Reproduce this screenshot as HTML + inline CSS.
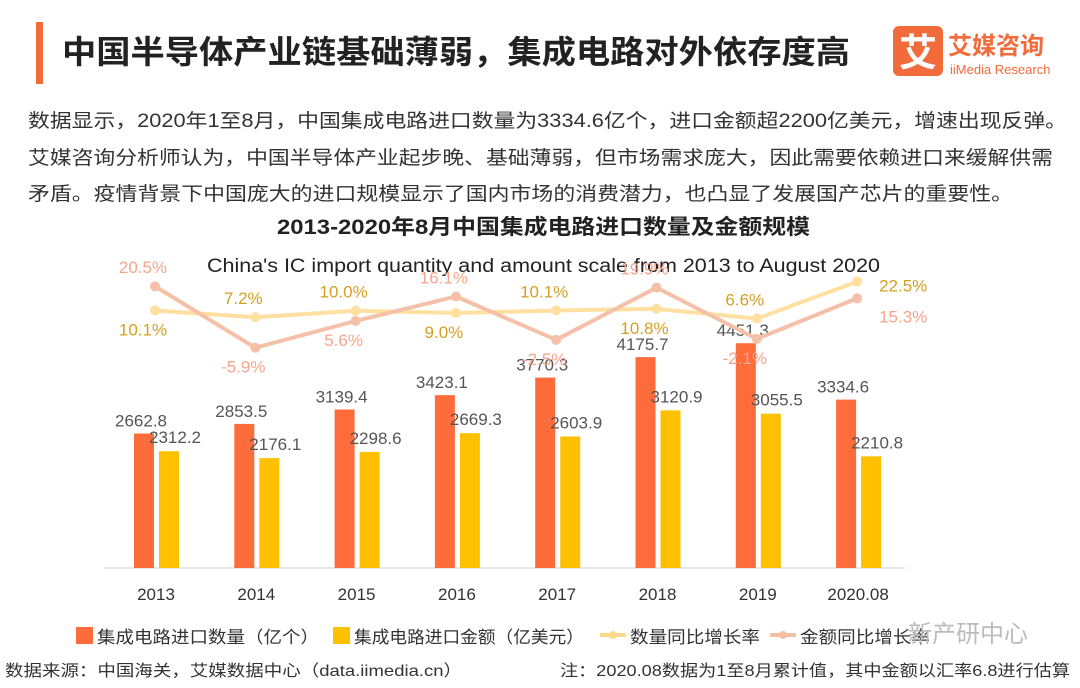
<!DOCTYPE html>
<html><head><meta charset="utf-8"><style>
body{margin:0;width:1080px;height:683px;background:#fff;overflow:hidden;font-family:"Liberation Sans","Noto Sans CJK SC",sans-serif;}
</style></head><body>
<svg width="1080" height="683" xmlns="http://www.w3.org/2000/svg" style="font-family:'Liberation Sans','Noto Sans CJK SC',sans-serif">
<rect x="36" y="22" width="7" height="62" fill="#f26b3a"/>
<text x="62" y="63" font-size="32" font-weight="bold" fill="#222" textLength="788" lengthAdjust="spacingAndGlyphs">中国半导体产业链基础薄弱，集成电路对外依存度高</text>
<g>
<rect x="893" y="26" width="50" height="50" rx="6" fill="#f26b3a"/>
<text x="918" y="66" font-size="38" font-weight="bold" fill="#fff" text-anchor="middle">艾</text>
<text x="948" y="54" font-size="24" font-weight="bold" fill="#f26b3a">艾媒咨询</text>
<text x="950" y="74" font-size="13" fill="#f26b3a">iiMedia Research</text>
</g>
<g font-size="19" fill="#333">
<text x="28" y="127" textLength="1039" lengthAdjust="spacingAndGlyphs">数据显示，2020年1至8月，中国集成电路进口数量为3334.6亿个，进口金额超2200亿美元，增速出现反弹。</text>
<text x="28" y="164" textLength="1025" lengthAdjust="spacingAndGlyphs">艾媒咨询分析师认为，中国半导体产业起步晚、基础薄弱，但市场需求庞大，因此需要依赖进口来缓解供需</text>
<text x="28" y="200" textLength="985" lengthAdjust="spacingAndGlyphs">矛盾。疫情背景下中国庞大的进口规模显示了国内市场的消费潜力，也凸显了发展国产芯片的重要性。</text>
</g>
<text x="277" y="234" font-size="21" font-weight="bold" fill="#222" textLength="533" lengthAdjust="spacingAndGlyphs">2013-2020年8月中国集成电路进口数量及金额规模</text>
<text x="207" y="272" font-size="19" fill="#222" textLength="673" lengthAdjust="spacingAndGlyphs">China's IC import quantity and amount scale from 2013 to August 2020</text>
<g id="chart"></g>
<g font-size="17" fill="#333">
<rect x="76" y="627" width="17" height="17" fill="#ff6c3c"/>
<text x="97" y="643" textLength="222" lengthAdjust="spacingAndGlyphs">集成电路进口数量（亿个）</text>
<rect x="333" y="627" width="17" height="17" fill="#ffc000"/>
<text x="354" y="643" textLength="230" lengthAdjust="spacingAndGlyphs">集成电路进口金额（亿美元）</text>
<line x1="600" y1="635" x2="626" y2="635" stroke="#ffd98a" stroke-width="4"/><circle cx="613" cy="635" r="4" fill="#ffd98a"/>
<text x="630" y="643" textLength="130" lengthAdjust="spacingAndGlyphs">数量同比增长率</text>
<line x1="770" y1="635" x2="796" y2="635" stroke="#f7c0a4" stroke-width="4"/><circle cx="783" cy="635" r="4" fill="#f7c0a4"/>
<text x="800" y="643" textLength="130" lengthAdjust="spacingAndGlyphs">金额同比增长率</text>
</g>
<text x="908" y="642" font-size="24" fill="#bbb">新产研中心</text>
<text x="5" y="676" font-size="16" fill="#333" textLength="457" lengthAdjust="spacingAndGlyphs">数据来源：中国海关，艾媒数据中心（data.iimedia.cn）</text>
<text x="560" y="676" font-size="16" fill="#333" textLength="510" lengthAdjust="spacingAndGlyphs">注：2020.08数据为1至8月累计值，其中金额以汇率6.8进行估算</text>
</svg>
<script>
const categories=["2013","2014","2015","2016","2017","2018","2019","2020.08"];
const quantity=[2662.8,2853.5,3139.4,3423.1,3770.3,4175.7,4451.3,3334.6];
const amount=[2312.2,2176.1,2298.6,2669.3,2603.9,3120.9,3055.5,2210.8];
const qtyGrowth=[10.1,7.2,10.0,9.0,10.1,10.8,6.6,22.5];
const amtGrowth=[20.5,-5.9,5.6,16.1,-2.5,19.9,-2.1,15.3];
const qtyLabelPos=["below","above","above","below","above","below","above","right"];
const amtLabelPos=["above","below","below","above","below","above","below","rightbelow"];
const NS="http://www.w3.org/2000/svg";
const g=document.getElementById("chart");
const base=568;
const xC=i=>155+i*100.3;
const yBar=v=>base-v*0.0505;
const yRate=v=>334-v*2.33;
function mk(t,a){const e=document.createElementNS(NS,t);for(const k in a)e.setAttribute(k,a[k]);g.appendChild(e);return e;}
const ax=mk("line",{x1:105,y1:base,x2:905,y2:base,stroke:"#ddd","stroke-width":1.5});


categories.forEach((c,i)=>{
 const b1=mk("rect",{x:xC(i)-21,y:yBar(quantity[i]),width:20,height:base-yBar(quantity[i]),fill:"#ff6c3c"});
 
 
 const b2=mk("rect",{x:xC(i)+4,y:yBar(amount[i]),width:20,height:base-yBar(amount[i]),fill:"#ffc000"});
 
 
 const l1=mk("text",{x:xC(i)-14,y:yBar(quantity[i])-7,"font-size":17,fill:"#555","text-anchor":"middle"});l1.textContent=quantity[i].toFixed(1);
 
 
 const l2=mk("text",{x:xC(i)+20,y:yBar(amount[i])-8,"font-size":17,fill:"#555","text-anchor":"middle"});l2.textContent=amount[i].toFixed(1);
 
 
 const t=mk("text",{x:xC(i)+1,y:base+32,"font-size":17,fill:"#333","text-anchor":"middle"});t.textContent=c;
 
 
});
function line(data,color,name,pos,lc){
 const p=mk("polyline",{points:data.map((v,i)=>xC(i)+","+yRate(v)).join(" "),fill:"none",stroke:color,"stroke-width":4,"stroke-linejoin":"round"});
 
 
 data.forEach((v,i)=>{
  const c=mk("circle",{cx:xC(i),cy:yRate(v),r:5,fill:color});
  
  
  let x=xC(i),y=yRate(v),a="middle";
  if(pos[i]=="above"){y-=13;x-=12;}else if(pos[i]=="below"){y+=25;x-=12;}else if(pos[i]=="right"){x+=22;y+=10;a="start";}else{x+=22;y+=24;a="start";}
  const l=mk("text",{x:x,y:y,"font-size":17,fill:lc,"text-anchor":a});l.textContent=v.toFixed(1)+"%";
  
  
 });
}
line(qtyGrowth,"#ffe0a0","quantity-growth",qtyLabelPos,"#d4a020");
line(amtGrowth,"#f5c0a8","amount-growth",amtLabelPos,"#f5a58a");
</script>
</body></html>
